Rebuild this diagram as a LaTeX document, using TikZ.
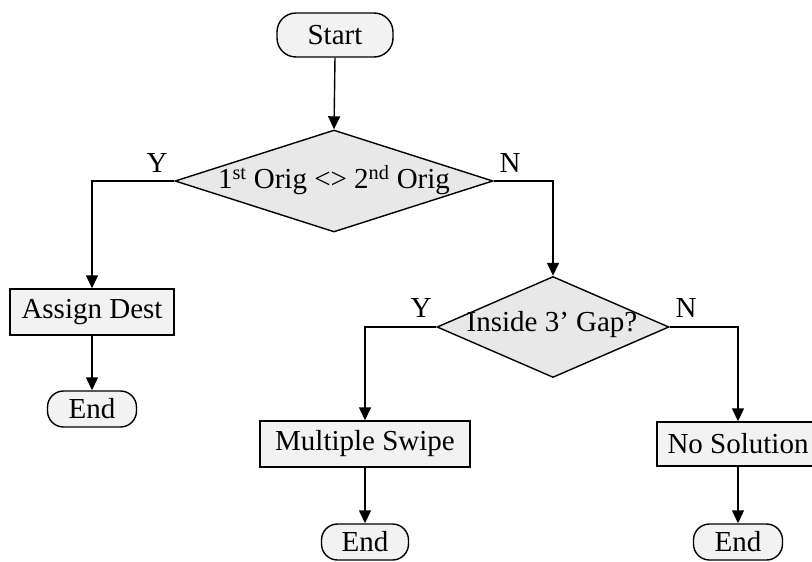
\documentclass[tikz,border=0pt]{standalone}
\usepackage{fontspec}
\setmainfont{Liberation Serif}
\usetikzlibrary{shapes.geometric,arrows.meta}
\begin{document}
\begin{tikzpicture}[x=1pt,y=-1pt,
  line width=1.4pt,
  every node/.style={font=\fontsize{29}{33}\selectfont},
  terminal/.style={draw, fill=black!5, rounded corners=16pt, inner sep=0pt},
  process/.style={draw, fill=black!5, inner sep=0pt},
  decision/.style={draw, fill=black!9, diamond, inner sep=0pt},
  flow/.style={-{Triangle[length=13pt,width=12pt]}},
  lbl/.style={inner sep=0pt}]
\useasboundingbox (0,0) rectangle (812,562);

% top start terminal
\node[terminal, minimum width=116pt, minimum height=44pt, rounded corners=19pt] (start) at (335,35) {Start};

% first decision
\node[decision, minimum width=318pt, minimum height=102pt] (d1) at (334,181) {};
\node[lbl] (d1txt) at (334,180) {1\textsuperscript{st} Orig <> 2\textsuperscript{nd} Orig};
\node[lbl] (y1) at (157,163) {Y};
\node[lbl] (n1) at (510,163) {N};

% left branch
\node[process, minimum width=164pt, minimum height=46pt] (assign) at (92,312) {Assign Dest};
\node[terminal, minimum width=89pt, minimum height=36pt] (end1) at (92,409) {End};

% second decision
\node[decision, minimum width=232pt, minimum height=101pt] (d2) at (553,327) {};
\node[lbl] (d2txt) at (552,325) {Inside 3’ Gap?};
\node[lbl] (y2) at (421,308) {Y};
\node[lbl] (n2) at (686,308) {N};

% lower branches
\node[process, minimum width=210pt, minimum height=46pt] (multi) at (365,444) {Multiple Swipe};
\node[terminal, minimum width=87pt, minimum height=36pt] (end2) at (365,542) {End};
\node[process, minimum width=162pt, minimum height=44pt] (nosol) at (738,444) {No Solution};
\node[terminal, minimum width=89pt, minimum height=36pt] (end3) at (738,542) {End};

% connectors
\draw[flow] (start.south) -- (d1.north);
\draw[flow] (d1.west) -| (assign.north);
\draw[flow] (assign.south) -- (end1.north);
\draw[flow] (d1.east) -| (d2.north);
\draw[flow] (d2.west) -| (multi.north);
\draw[flow] (multi.south) -- (end2.north);
\draw[flow] (d2.east) -| (nosol.north);
\draw[flow] (nosol.south) -- (end3.north);
\end{tikzpicture}
\end{document}
